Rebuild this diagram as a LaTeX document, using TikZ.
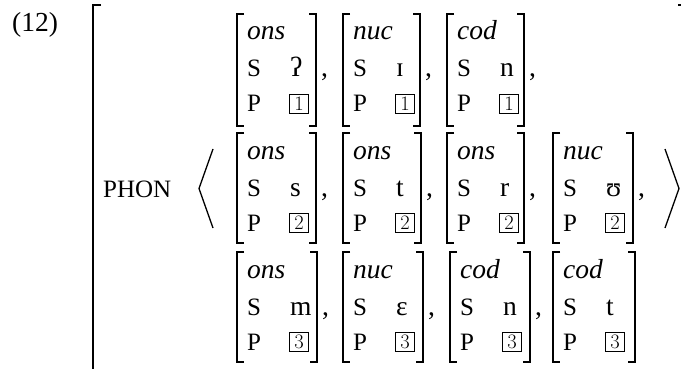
\documentclass[tikz,border=0pt]{standalone}
\usepackage{fontspec}
\setmainfont{Liberation Serif}
\newfontfamily\lmr{Latin Modern Roman}
\tikzset{
  txt/.style={inner sep=0pt, anchor=base west, font=\fontsize{27.5}{32}\selectfont},
  feat/.style={inner sep=0pt, anchor=base west, font=\fontsize{25}{28}\selectfont},
  tagbox/.style={draw, line width=0.9pt, minimum width=19.5pt, minimum height=19.5pt, inner sep=0pt, font=\lmr\fontsize{20.5}{22}\selectfont},
  brk/.style={line width=1.7pt},
  ang/.style={line width=1.3pt, line join=miter},
}
\newcommand\avmbox[9]{%
  \pgfmathsetmacro\Lx{#2}\pgfmathsetmacro\Rx{#3}\pgfmathsetmacro\Ty{#4}%
  \pgfmathsetmacro\By{#4+#9}%
  \pgfmathsetmacro\ya{#4+26}\pgfmathsetmacro\yb{#4+63}\pgfmathsetmacro\yc{#4+98}%
  \draw[brk] (\Lx+7,\Ty) -- (\Lx,\Ty) -- (\Lx,\By) -- (\Lx+7,\By);
  \draw[brk] (\Rx-7,\Ty) -- (\Rx,\Ty) -- (\Rx,\By) -- (\Rx-7,\By);
  \node[txt] (#1t) at (\Lx+10,\ya) {\itshape #5};
  \node[feat] (#1s) at (\Lx+10,\yb) {S};
  \node[txt] (#1v) at (\Lx+53,\yb) {#6};
  \node[feat] (#1p) at (\Lx+10,\yc) {P};
  \node[tagbox] (#1n) at (\Lx+62,\yc-8) {#7};
  \node[txt] (#1c) at (\Rx+5,\yb) {#8};
}
\begin{document}
\begin{tikzpicture}[x=1pt,y=-1pt]
\useasboundingbox (0,0) rectangle (681,369);
\node[txt] (ex) at (12,32) {(12)};
\draw[brk] (101,5) -- (93,5) -- (93,372);
\draw[line width=2pt] (678,5.5) -- (682,5.5);
\node[feat] (phon) at (103,197) {PHON};
\draw[ang] (213,149) -- (199,188.5) -- (213,228);
\draw[ang] (665,149) -- (679,188.5) -- (665,228);
% row 1
\avmbox{a}{237}{316}{14}{ons}{ʔ}{1}{,}{112}
\avmbox{b}{343}{420}{14}{nuc}{ɪ}{1}{,}{112}
\avmbox{c}{447}{524}{14}{cod}{n}{1}{,}{112}
% row 2
\avmbox{d}{237}{316}{133}{ons}{s}{2}{,}{110}
\avmbox{e}{343}{421}{133}{ons}{t}{2}{,}{110}
\avmbox{f}{447}{524}{133}{ons}{r}{2}{,}{110}
\avmbox{g}{553}{633}{133}{nuc}{ʊ}{2}{,}{110}
% row 3
\avmbox{h}{237}{317}{252}{ons}{m}{3}{,}{110}
\avmbox{i}{343}{423}{252}{nuc}{ɛ}{3}{,}{110}
\avmbox{j}{450}{530}{252}{cod}{n}{3}{,}{110}
\avmbox{k}{553}{635}{252}{cod}{t}{3}{}{110}
\end{tikzpicture}
\end{document}
